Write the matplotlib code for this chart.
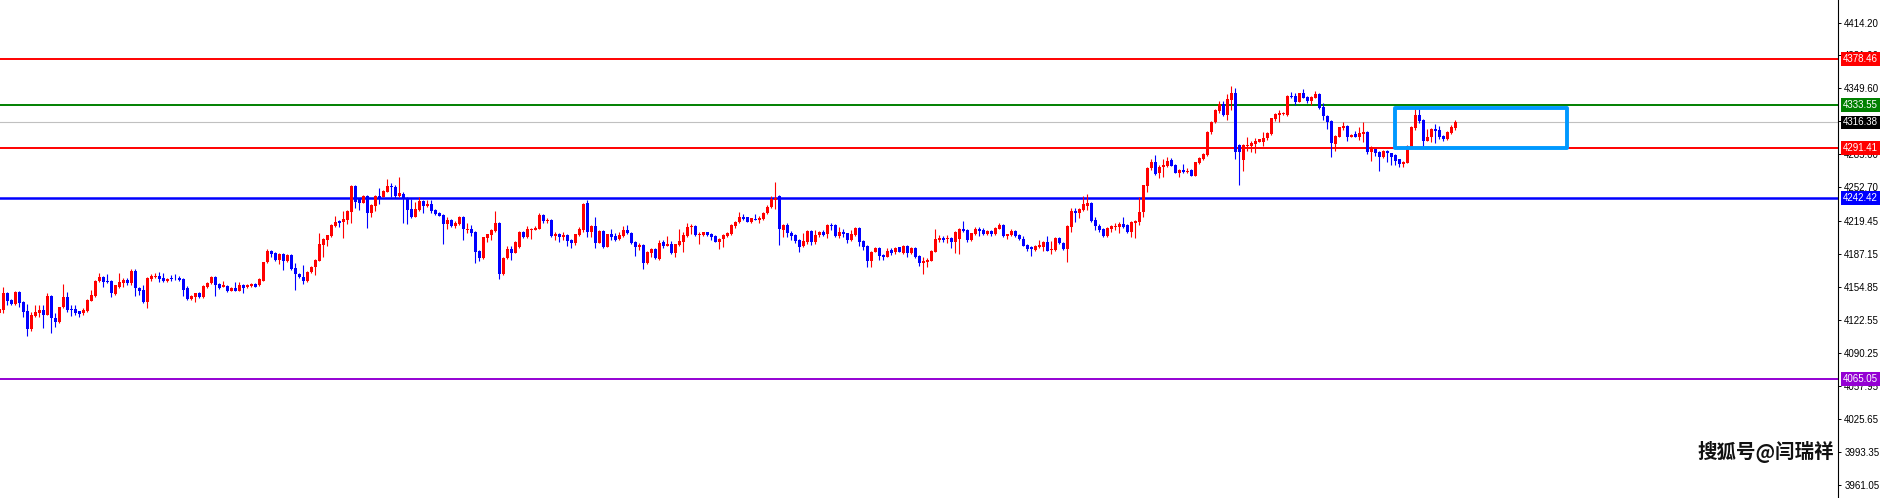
import matplotlib
matplotlib.use("Agg")
import matplotlib.pyplot as plt
from matplotlib.patches import Rectangle
import numpy as np

# candle data (k = -1 .. 363)
opens = [
    4129.4, 4132.6, 4148.9, 4142.4, 4138.5, 4150.6, 4140.8, 4131.7, 4114.0, 4127.1,
    4130.0, 4132.6, 4128.1, 4146.7, 4124.5, 4121.2, 4135.2, 4145.7, 4133.3, 4133.3,
    4131.3, 4129.4, 4132.0, 4141.8, 4146.7, 4161.0, 4165.3, 4161.4, 4161.4, 4148.3,
    4155.5, 4159.4, 4162.0, 4158.7, 4171.2, 4154.5, 4152.2, 4140.8, 4163.0, 4165.3,
    4166.2, 4163.9, 4161.4, 4163.6, 4164.3, 4164.3, 4163.3, 4153.8, 4143.7, 4145.7,
    4148.9, 4145.7, 4155.5, 4158.7, 4165.0, 4158.1, 4155.5, 4156.5, 4151.6, 4154.5,
    4151.6, 4157.1, 4154.8, 4156.1, 4158.1, 4157.1, 4161.4, 4179.3, 4190.4, 4188.1,
    4181.6, 4187.5, 4180.9, 4186.5, 4173.4, 4167.9, 4164.6, 4161.0, 4169.5, 4174.4,
    4180.9, 4196.3, 4201.2, 4205.1, 4214.9, 4219.5, 4219.2, 4220.8, 4228.9, 4254.4,
    4241.0, 4237.8, 4244.6, 4228.0, 4234.8, 4244.3, 4243.6, 4248.5, 4254.1, 4252.8,
    4244.3,
    4245.9, 4242.6, 4231.6, 4224.0, 4230.6, 4239.4, 4234.8, 4236.4, 4230.6, 4227.3,
    4225.7, 4216.9, 4220.8, 4214.9, 4216.9, 4224.0, 4211.0, 4212.0, 4209.4, 4190.4,
    4183.2, 4202.8, 4206.1, 4210.3, 4218.2, 4167.9, 4183.2, 4192.4, 4188.8, 4194.0,
    4209.4, 4203.8, 4211.0, 4211.0, 4212.0, 4225.7, 4219.5, 4220.8, 4205.1, 4207.1,
    4204.5, 4206.1, 4201.2, 4198.6, 4206.1, 4211.0, 4237.1, 4209.4, 4214.9, 4198.6,
    4210.0, 4194.7, 4206.7, 4205.1, 4201.8, 4205.1, 4211.0, 4208.4, 4199.6, 4194.0,
    4196.3, 4179.0, 4188.8, 4192.4, 4182.6, 4198.9, 4195.6, 4197.3, 4188.8, 4196.3,
    4199.6, 4205.1, 4213.6, 4214.9, 4206.1, 4206.1, 4208.7, 4206.7, 4205.1, 4199.6,
    4201.8, 4205.1, 4207.1, 4214.9, 4218.5, 4224.0, 4223.4, 4219.2, 4221.8, 4220.8,
    4221.8, 4227.3, 4233.2, 4240.4, 4244.3,
    4211.0, 4215.9, 4207.7, 4206.1, 4201.2, 4195.3, 4199.6, 4210.3, 4199.6, 4205.8,
    4209.0, 4206.7, 4215.9, 4215.9, 4205.1, 4209.4, 4207.7, 4201.2, 4206.1, 4213.3,
    4200.2, 4195.3, 4180.9, 4189.8, 4193.7, 4186.5, 4184.9, 4191.4, 4189.1, 4194.0,
    4188.8, 4195.3, 4188.1, 4193.7, 4185.5, 4178.3, 4180.0, 4180.9, 4189.8, 4201.2,
    4203.5, 4201.8, 4203.5, 4199.6, 4201.8, 4212.3, 4211.0, 4201.2, 4207.1, 4211.6,
    4211.0, 4207.1, 4210.3, 4206.7, 4212.0, 4215.9, 4205.1, 4205.8, 4210.3, 4206.1,
    4202.5, 4196.3, 4194.0, 4191.4, 4194.0, 4194.7, 4199.6, 4191.4, 4191.4, 4203.5,
    4198.6, 4192.4, 4214.2, 4229.6, 4227.3, 4230.6, 4234.8, 4237.8, 4220.8, 4214.9,
    4212.0, 4205.1, 4212.0, 4213.6, 4214.2, 4216.9, 4215.9, 4208.7, 4218.2, 4219.2,
    4228.3, 4254.4, 4271.4, 4277.3, 4266.5,
    4272.4, 4273.7, 4279.5, 4274.6, 4267.1, 4269.8, 4268.1, 4269.8, 4264.2, 4276.3,
    4280.2, 4284.4, 4306.6, 4316.4, 4327.9, 4334.4, 4323.6, 4338.3, 4345.5, 4294.2,
    4279.5, 4293.3, 4293.3, 4295.2, 4297.5, 4297.5, 4300.8, 4305.0, 4319.7, 4323.6,
    4324.6, 4323.6, 4342.5, 4342.5, 4336.7, 4344.8, 4341.6, 4337.7, 4340.6, 4344.2,
    4331.1, 4322.6, 4317.7, 4295.2, 4302.4, 4311.2, 4313.2, 4302.4, 4305.0, 4302.4,
    4305.0, 4307.3, 4287.7, 4290.0, 4287.7, 4282.2, 4288.4, 4286.1, 4284.4, 4280.2,
    4275.3, 4276.9, 4292.6, 4310.6, 4323.6, 4318.7, 4298.5, 4301.7, 4309.9, 4308.9,
    4303.4, 4300.1, 4305.7, 4311.2,
]
highs = [
    4134.0, 4155.5, 4150.6, 4143.5, 4151.5, 4151.5, 4141.5, 4138.5, 4130.3, 4137.2,
    4137.2, 4137.2, 4148.9, 4147.3, 4129.4, 4136.0, 4157.8, 4150.6, 4137.5, 4137.2,
    4132.0, 4134.3, 4143.5, 4152.2, 4162.0, 4168.5, 4166.0, 4167.9, 4162.0, 4157.5,
    4168.5, 4164.3, 4163.6, 4172.5, 4173.1, 4155.0, 4157.1, 4165.3, 4167.5, 4168.5,
    4170.2, 4168.5, 4163.5, 4166.9, 4167.9, 4165.5, 4164.0, 4156.0, 4147.5, 4149.5,
    4150.0, 4157.0, 4160.5, 4166.0, 4165.8, 4159.0, 4161.0, 4157.5, 4155.5, 4159.7,
    4160.4, 4158.0, 4158.5, 4158.8, 4159.0, 4163.5, 4180.0, 4192.4, 4191.2, 4189.0,
    4188.0, 4188.3, 4187.5, 4187.2, 4178.3, 4168.5, 4176.7, 4171.0, 4175.8, 4182.3,
    4207.7, 4203.0, 4206.5, 4216.5, 4224.7, 4220.8, 4229.6, 4230.3, 4255.0, 4255.0,
    4242.0, 4245.5, 4245.3, 4236.0, 4244.8, 4252.4, 4250.0, 4260.9, 4257.3, 4255.1,
    4263.2,
    4247.9, 4243.5, 4241.0, 4238.1, 4243.6, 4240.0, 4240.4, 4240.4, 4231.5, 4228.9,
    4226.3, 4224.0, 4221.5, 4220.1, 4224.5, 4224.7, 4217.5, 4215.9, 4210.0, 4191.0,
    4204.5, 4207.3, 4211.5, 4229.6, 4219.0, 4184.5, 4195.3, 4195.3, 4200.3, 4210.0,
    4210.0, 4214.9, 4212.5, 4214.9, 4228.0, 4226.5, 4222.4, 4221.5, 4209.4, 4208.0,
    4209.4, 4207.0, 4202.0, 4207.5, 4213.6, 4237.8, 4240.4, 4215.5, 4224.0, 4210.5,
    4210.7, 4207.5, 4211.6, 4208.4, 4209.4, 4214.9, 4215.9, 4209.0, 4200.3, 4198.6,
    4197.0, 4190.0, 4193.0, 4193.0, 4201.2, 4201.2, 4205.1, 4200.5, 4197.5, 4211.6,
    4209.4, 4218.2, 4216.9, 4215.5, 4209.4, 4209.2, 4209.3, 4207.7, 4205.8, 4202.8,
    4206.8, 4209.0, 4216.5, 4220.0, 4228.9, 4226.3, 4224.0, 4223.0, 4226.6, 4224.7,
    4228.9, 4235.5, 4244.3, 4258.0, 4245.0,
    4216.5, 4218.2, 4210.0, 4207.0, 4202.0, 4207.7, 4211.0, 4211.0, 4211.0, 4209.8,
    4211.0, 4216.5, 4218.2, 4216.5, 4214.2, 4212.0, 4208.5, 4211.0, 4214.0, 4214.0,
    4201.0, 4196.0, 4190.3, 4194.2, 4194.3, 4187.5, 4193.7, 4193.0, 4194.0, 4194.7,
    4196.3, 4196.0, 4194.3, 4194.3, 4186.2, 4184.2, 4183.2, 4191.0, 4212.0, 4206.1,
    4205.1, 4206.1, 4204.2, 4210.0, 4213.0, 4220.1, 4211.6, 4208.4, 4213.6, 4213.6,
    4212.6, 4211.0, 4211.0, 4214.0, 4218.2, 4216.5, 4207.5, 4211.6, 4211.0, 4206.8,
    4205.1, 4197.0, 4195.6, 4196.3, 4201.2, 4200.5, 4205.1, 4200.5, 4204.5, 4204.2,
    4199.5, 4215.5, 4232.2, 4232.2, 4232.5, 4244.3, 4246.2, 4238.5, 4224.0, 4216.9,
    4212.6, 4214.0, 4215.5, 4218.2, 4219.2, 4224.0, 4216.5, 4220.0, 4220.5, 4243.6,
    4255.5, 4273.0, 4280.2, 4284.4, 4275.0,
    4280.2, 4282.2, 4281.2, 4275.2, 4270.5, 4275.3, 4271.4, 4270.5, 4278.0, 4282.0,
    4286.2, 4308.0, 4318.0, 4329.2, 4337.3, 4337.3, 4344.2, 4352.0, 4349.7, 4295.0,
    4295.0, 4302.4, 4298.1, 4301.4, 4300.5, 4306.6, 4307.0, 4321.0, 4325.9, 4328.5,
    4326.5, 4343.0, 4345.8, 4345.5, 4345.5, 4349.1, 4342.2, 4342.2, 4347.1, 4345.0,
    4335.0, 4323.2, 4318.3, 4304.0, 4312.2, 4316.4, 4313.8, 4304.6, 4308.0, 4311.5,
    4317.1, 4308.0, 4293.3, 4290.6, 4288.3, 4289.0, 4289.0, 4286.7, 4285.0, 4281.0,
    4278.5, 4294.0, 4313.0, 4330.1, 4330.1, 4319.3, 4309.6, 4311.2, 4314.8, 4312.8,
    4304.0, 4307.9, 4313.8, 4318.7,
]
lows = [
    4128.0, 4129.4, 4137.5, 4137.5, 4137.5, 4135.9, 4126.1, 4107.5, 4112.4, 4126.1,
    4126.1, 4114.7, 4127.5, 4109.8, 4116.3, 4120.0, 4134.3, 4131.0, 4127.1, 4127.7,
    4126.1, 4127.7, 4131.0, 4141.0, 4145.5, 4160.0, 4154.8, 4158.7, 4145.0, 4147.0,
    4154.5, 4154.8, 4157.5, 4157.5, 4146.7, 4147.3, 4139.2, 4134.9, 4161.5, 4163.6,
    4159.7, 4160.5, 4159.7, 4161.4, 4162.0, 4161.5, 4146.7, 4142.1, 4142.5, 4140.8,
    4144.5, 4144.5, 4154.5, 4158.0, 4146.7, 4153.5, 4154.8, 4150.5, 4150.8, 4150.8,
    4150.8, 4149.6, 4154.0, 4155.5, 4154.8, 4156.5, 4161.0, 4178.8, 4184.2, 4181.0,
    4177.3, 4171.8, 4180.0, 4172.0, 4152.2, 4163.5, 4157.8, 4160.5, 4169.0, 4166.9,
    4180.3, 4184.2, 4195.3, 4204.5, 4214.2, 4214.2, 4203.5, 4216.9, 4218.2, 4232.2,
    4230.6, 4237.0, 4213.3, 4224.0, 4229.6, 4236.1, 4243.0, 4248.0, 4243.6, 4242.0,
    4243.6,
    4218.2, 4216.9, 4222.4, 4223.5, 4230.0, 4227.3, 4233.2, 4228.0, 4225.5, 4224.5,
    4197.3, 4212.0, 4214.0, 4213.3, 4216.0, 4201.2, 4207.7, 4205.1, 4179.0, 4180.9,
    4182.5, 4199.6, 4201.2, 4209.5, 4162.7, 4167.0, 4182.5, 4181.6, 4188.0, 4193.0,
    4203.0, 4203.0, 4202.5, 4210.5, 4211.5, 4218.2, 4217.5, 4203.8, 4201.2, 4198.9,
    4201.2, 4195.6, 4193.0, 4196.0, 4205.5, 4209.4, 4203.8, 4204.5, 4193.7, 4198.0,
    4193.7, 4194.0, 4201.2, 4200.5, 4201.0, 4204.5, 4207.0, 4196.9, 4185.5, 4191.4,
    4172.8, 4177.3, 4184.2, 4182.5, 4182.0, 4193.7, 4195.0, 4187.2, 4184.2, 4195.8,
    4189.8, 4204.5, 4207.1, 4205.5, 4197.3, 4205.5, 4205.5, 4201.2, 4199.0, 4192.4,
    4194.7, 4204.5, 4206.5, 4212.6, 4218.0, 4220.8, 4218.5, 4217.5, 4220.5, 4218.2,
    4221.0, 4226.5, 4232.5, 4231.6, 4196.3,
    4204.5, 4203.8, 4201.2, 4197.9, 4189.8, 4194.7, 4197.3, 4196.3, 4197.3, 4204.5,
    4205.5, 4202.8, 4211.0, 4203.8, 4202.8, 4203.8, 4198.6, 4200.5, 4205.5, 4195.3,
    4191.4, 4174.4, 4175.1, 4189.2, 4181.6, 4181.6, 4184.3, 4186.5, 4187.5, 4189.0,
    4187.5, 4184.2, 4187.5, 4183.5, 4175.7, 4167.9, 4174.4, 4180.3, 4189.2, 4199.6,
    4199.6, 4197.9, 4193.0, 4188.1, 4187.5, 4209.4, 4199.6, 4200.5, 4206.1, 4205.1,
    4206.5, 4206.5, 4205.1, 4206.0, 4211.5, 4203.8, 4201.8, 4205.0, 4204.5, 4201.2,
    4195.0, 4190.8, 4185.8, 4190.8, 4193.5, 4190.8, 4190.3, 4187.2, 4190.8, 4197.3,
    4191.5, 4180.0, 4209.4, 4219.2, 4222.4, 4230.0, 4230.6, 4219.2, 4211.0, 4209.4,
    4203.8, 4204.5, 4209.4, 4211.0, 4208.4, 4212.5, 4207.7, 4204.5, 4202.8, 4215.9,
    4224.0, 4248.5, 4269.8, 4264.8, 4261.6,
    4262.6, 4273.0, 4273.5, 4266.5, 4262.6, 4267.1, 4266.5, 4263.5, 4263.5, 4275.8,
    4279.5, 4283.8, 4305.0, 4315.8, 4325.3, 4322.6, 4318.7, 4328.5, 4280.2, 4255.1,
    4269.1, 4288.4, 4287.7, 4286.7, 4297.0, 4293.3, 4299.1, 4304.5, 4318.1, 4317.1,
    4324.0, 4323.0, 4339.9, 4333.4, 4336.0, 4340.0, 4335.0, 4333.4, 4340.0, 4329.2,
    4318.7, 4309.6, 4282.8, 4288.7, 4301.8, 4308.9, 4298.5, 4301.8, 4301.8, 4299.1,
    4297.5, 4285.1, 4278.9, 4283.5, 4269.1, 4281.5, 4277.9, 4274.6, 4274.6, 4273.0,
    4272.4, 4276.3, 4292.0, 4308.9, 4315.5, 4292.6, 4298.0, 4297.5, 4295.9, 4299.8,
    4298.5, 4299.1, 4305.0, 4308.9,
]
closes = [
    4133.3, 4148.9, 4141.8, 4138.5, 4150.6, 4139.2, 4131.0, 4114.0, 4127.7, 4130.3,
    4132.6, 4128.1, 4146.3, 4124.5, 4121.2, 4135.2, 4145.7, 4132.6, 4132.6, 4130.0,
    4128.7, 4132.6, 4142.4, 4147.3, 4161.0, 4165.3, 4160.4, 4160.4, 4148.9, 4156.8,
    4160.4, 4162.0, 4158.7, 4171.2, 4153.8, 4151.6, 4140.8, 4164.3, 4166.2, 4166.2,
    4163.3, 4161.4, 4162.7, 4162.8, 4163.6, 4162.0, 4152.2, 4143.7, 4146.7, 4148.9,
    4145.7, 4156.1, 4159.4, 4165.3, 4157.1, 4154.5, 4157.1, 4151.6, 4154.5, 4151.6,
    4156.8, 4154.5, 4157.4, 4158.1, 4155.5, 4162.7, 4179.6, 4190.4, 4187.5, 4181.6,
    4187.5, 4180.9, 4186.8, 4172.8, 4167.9, 4164.6, 4161.0, 4170.2, 4175.1, 4181.6,
    4197.3, 4202.5, 4206.1, 4215.9, 4219.2, 4218.2, 4221.4, 4229.6, 4254.4, 4238.1,
    4237.8, 4244.6, 4228.0, 4235.5, 4244.3, 4241.3, 4249.5, 4254.4, 4252.8, 4244.6,
    4246.9,
    4241.3, 4230.6, 4223.4, 4231.2, 4239.4, 4234.8, 4236.4, 4229.6, 4226.3, 4225.0,
    4216.9, 4220.8, 4214.9, 4217.5, 4223.7, 4211.6, 4212.0, 4208.4, 4189.8, 4183.9,
    4203.8, 4206.7, 4211.0, 4218.2, 4167.9, 4183.9, 4192.4, 4188.8, 4199.6, 4209.4,
    4203.8, 4211.6, 4212.0, 4213.3, 4225.7, 4219.8, 4220.8, 4205.4, 4206.7, 4204.5,
    4206.1, 4200.5, 4198.6, 4206.7, 4212.0, 4236.4, 4209.4, 4214.9, 4198.6, 4210.0,
    4194.7, 4206.7, 4203.8, 4201.2, 4205.8, 4211.0, 4207.7, 4198.6, 4194.0, 4196.3,
    4179.0, 4189.4, 4192.4, 4183.2, 4197.9, 4195.6, 4197.3, 4188.8, 4196.9, 4200.5,
    4206.1, 4214.2, 4214.9, 4206.1, 4207.1, 4208.7, 4206.1, 4203.8, 4199.6, 4202.2,
    4206.1, 4208.4, 4215.9, 4219.2, 4224.0, 4221.4, 4219.2, 4222.4, 4221.1, 4223.1,
    4228.0, 4233.8, 4241.0, 4242.0, 4212.0,
    4215.9, 4207.7, 4205.1, 4200.5, 4194.7, 4200.2, 4210.0, 4199.6, 4206.1, 4209.0,
    4206.1, 4215.9, 4214.9, 4205.1, 4209.4, 4207.1, 4201.2, 4207.1, 4213.3, 4199.6,
    4194.0, 4180.9, 4189.8, 4193.7, 4185.5, 4184.2, 4190.4, 4188.8, 4193.7, 4189.8,
    4195.3, 4188.1, 4193.7, 4184.2, 4178.3, 4180.6, 4181.6, 4190.4, 4202.2, 4203.5,
    4201.2, 4203.5, 4199.6, 4209.4, 4212.3, 4210.3, 4201.2, 4207.7, 4211.6, 4210.3,
    4207.1, 4210.3, 4206.7, 4213.3, 4215.9, 4205.1, 4206.7, 4210.0, 4205.1, 4201.8,
    4195.6, 4192.4, 4192.4, 4195.6, 4196.3, 4199.6, 4190.8, 4192.7, 4203.5, 4197.9,
    4192.4, 4214.9, 4229.6, 4227.3, 4231.9, 4236.1, 4237.8, 4219.8, 4214.9, 4211.0,
    4205.1, 4213.3, 4214.9, 4215.2, 4216.9, 4213.6, 4209.0, 4219.2, 4219.8, 4228.9,
    4255.1, 4271.4, 4277.3, 4265.8, 4272.4,
    4274.6, 4278.9, 4274.0, 4267.1, 4269.8, 4268.1, 4269.1, 4264.2, 4277.3, 4281.2,
    4285.4, 4307.3, 4317.1, 4328.5, 4334.4, 4323.6, 4339.0, 4345.5, 4287.7, 4287.7,
    4294.2, 4294.2, 4295.9, 4298.1, 4299.8, 4301.4, 4306.3, 4320.4, 4324.6, 4325.9,
    4325.9, 4342.2, 4341.6, 4336.7, 4344.8, 4340.6, 4337.7, 4341.6, 4344.2, 4330.2,
    4322.6, 4317.1, 4295.9, 4303.4, 4311.5, 4313.2, 4302.4, 4304.0, 4302.4, 4306.3,
    4307.3, 4287.7, 4291.9, 4286.1, 4282.2, 4288.4, 4286.1, 4282.8, 4278.9, 4275.3,
    4277.9, 4293.3, 4312.2, 4323.6, 4318.1, 4298.5, 4301.7, 4309.9, 4308.3, 4302.4,
    4300.1, 4307.3, 4311.5, 4316.4,
]

# horizontal levels: price, colour, line width (pt)
level_prices = [4378.46, 4333.55, 4316.38, 4291.41, 4242.42, 4065.05]
level_colors = ['#ff0000', '#008000', '#c0c0c0', '#ff0000', '#0000ff', '#9400d3']
tag_colors = ['#ff0000', '#008000', '#000000', '#ff0000', '#0000ff', '#9400d3']
level_widths = [1.4, 1.4, 0.8, 1.4, 1.8, 1.4]

# price scale labels
tick_values = [4414.20, 4381.90, 4349.60, 4317.30, 4285.00, 4252.70, 4219.45,
               4187.15, 4154.85, 4122.55, 4090.25, 4057.95, 4025.65, 3993.35, 3961.05]

# consolidation box: first/last bar index and price range
box_x = [347.9, 390.9]
box_y = [4291.41, 4330.8]

W, H = 1882, 498
fig = plt.figure(figsize=(W / 100, H / 100), dpi=100)
ax = fig.add_axes([0, 0, 1838 / W, 1])

o = np.array(opens); h = np.array(highs); l = np.array(lows); c = np.array(closes)
x = np.arange(len(o)) - 1
up = c >= o
col = np.where(up, '#ff0000', '#0000ff')

ax.vlines(x, l, h, colors=col, linewidth=0.8, zorder=3)
body_lo = np.minimum(o, c)
body_h = np.maximum(np.abs(c - o), 0.6)
ax.bar(x, body_h, bottom=body_lo, width=0.78, color=col, linewidth=0, zorder=3)

for p, lc, lw in zip(level_prices, level_colors, level_widths):
    ax.axhline(p, color=lc, linewidth=lw, zorder=2)

ax.add_patch(Rectangle((box_x[0], box_y[0]), box_x[1] - box_x[0], box_y[1] - box_y[0],
                       fill=False, edgecolor='#0099ff', linewidth=2.8,
                       joinstyle='round', zorder=4))

ax.set_xlim(-0.83, 458.7)
ax.set_ylim(3948.5, 4436.25)

for s in ['top', 'left', 'bottom']:
    ax.spines[s].set_visible(False)
ax.spines['right'].set_color('black')
ax.spines['right'].set_linewidth(0.8)
ax.set_xticks([])
ax.yaxis.tick_right()
ax.set_yticks(tick_values)
ax.set_yticklabels([f"{v:.2f}" for v in tick_values])
ax.tick_params(axis='y', length=2.5, width=0.7, pad=2, labelsize=7)
for t in ax.get_yticklabels():
    t.set_family('Liberation Sans')

ytr = ax.get_yaxis_transform()
for p, tc in zip(level_prices, tag_colors):
    ax.text(1.0028, p, f"{p:.2f}", transform=ytr, ha='left', va='center',
            fontsize=7, family='Liberation Sans', color='white', clip_on=False,
            zorder=6, bbox=dict(boxstyle='square,pad=0.18', fc=tc, ec='none'))

fig.text(1834 / W, 1 - 452 / H, '搜狐号@闫瑞祥', ha='right', va='center',
         fontsize=14, fontweight='bold', color='#111111',
         family=['Noto Sans CJK SC', 'DejaVu Sans'])

fig.savefig('out.png', dpi=100, facecolor='white')
